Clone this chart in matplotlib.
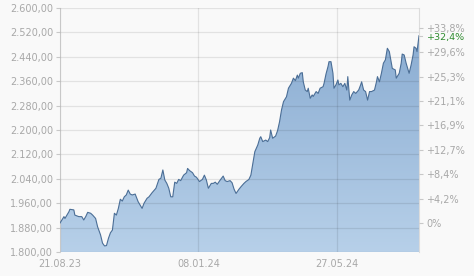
import numpy as np
import pandas as pd
import matplotlib
matplotlib.use("Agg")
import matplotlib.pyplot as plt
from matplotlib.patches import PathPatch

# price series (day offsets from 21.08.23)
start_date = "2023-08-21"
day_offset = [0, 4, 5, 9, 10, 14, 15, 19, 22, 24, 26, 28, 31, 33, 36, 38, 41, 43, 45, 47,
              49, 51, 53, 55, 57, 59, 61, 63, 65, 67, 69, 71, 73, 76, 79, 83, 85, 88, 90, 93,
              97, 100, 102, 104, 106, 108, 110, 112, 114, 116, 118, 120, 122, 125, 128, 129, 131, 134, 136, 138,
              141, 144, 146, 148, 150, 153, 155, 157, 159, 162, 165, 167, 169, 172, 174, 176, 178, 181, 183, 186,
              188, 191, 193, 195, 197, 200, 202, 203, 205, 208, 210, 212, 213, 215, 218, 220, 222, 224, 226, 229,
              231, 233, 234, 236, 238, 240, 241, 243, 245, 246, 248, 250, 251, 253, 255, 256, 259, 261, 263, 266,
              267, 269, 271, 272, 274, 276, 277, 279, 281, 282, 284, 286, 288, 290, 291, 293, 295, 297, 299, 302,
              304, 305, 307, 309, 311, 313, 315, 318, 320, 321, 323, 325, 327, 329, 331, 333, 335, 336, 339, 340,
              343, 345, 346, 348, 350, 352, 353, 355, 357, 358, 360, 361, 363]
close = [1895, 1916, 1910, 1932, 1940, 1938, 1921, 1916, 1916, 1905, 1916, 1930, 1927, 1921, 1910, 1883, 1856, 1829, 1820, 1821,
         1845, 1863, 1872, 1927, 1921, 1943, 1973, 1967, 1981, 1987, 2003, 1990, 1987, 1990, 1965, 1943, 1960, 1976, 1981, 1994,
         2009, 2038, 2042, 2069, 2036, 2025, 2009, 1981, 1981, 2029, 2025, 2038, 2034, 2052, 2060, 2074, 2067, 2060, 2049, 2045,
         2031, 2038, 2052, 2036, 2009, 2025, 2025, 2029, 2022, 2036, 2049, 2034, 2031, 2034, 2027, 2006, 1992, 2006, 2014, 2025,
         2031, 2038, 2052, 2091, 2129, 2151, 2173, 2178, 2162, 2167, 2162, 2175, 2200, 2173, 2180, 2198, 2227, 2266, 2293, 2309,
         2337, 2348, 2353, 2370, 2362, 2380, 2370, 2386, 2388, 2358, 2331, 2326, 2337, 2304, 2315, 2310, 2326, 2320, 2337, 2342,
         2353, 2384, 2408, 2424, 2424, 2386, 2337, 2348, 2364, 2348, 2353, 2342, 2353, 2331, 2375, 2298, 2315, 2326, 2320, 2331,
         2348, 2358, 2331, 2326, 2298, 2326, 2326, 2331, 2358, 2375, 2358, 2386, 2419, 2430, 2468, 2457, 2419, 2402, 2397, 2370,
         2386, 2419, 2449, 2446, 2419, 2397, 2386, 2413, 2446, 2473, 2468, 2457, 2509]

left_ticks = [1800, 1880, 1960, 2040, 2120, 2200, 2280, 2360, 2440, 2520, 2600]
pct_ticks = [0, 4.2, 8.4, 12.7, 16.9, 21.1, 25.3, 29.6, 33.8]
date_ticks = ["2023-08-21", "2024-01-08", "2024-05-27"]
date_labels = ["21.08.23", "08.01.24", "27.05.24"]

dates = pd.Timestamp(start_date) + pd.to_timedelta(day_offset, unit="D")
base = close[0]

grey = "#a8a8a8"
bg = "#f9f9f9"

fig = plt.figure(figsize=(4.74, 2.76), dpi=100, facecolor=bg)
ax = fig.add_axes([60/474, 24/276, 359/474, 244/276], facecolor=bg)

ax.set_xlim(dates[0], dates[-1])
ax.set_ylim(1800, 2600)

# gradient area under the line
poly = ax.fill_between(dates, close, 1800, color="none", lw=0)
grad = np.linspace(0, 1, 256).reshape(-1, 1)
cmap = matplotlib.colors.LinearSegmentedColormap.from_list("g", ["#b7d0e9", "#8badd2"])
x0, x1 = matplotlib.dates.date2num(dates[0]), matplotlib.dates.date2num(dates[-1])
img = ax.imshow(grad, cmap=cmap, aspect="auto", origin="lower",
                extent=[x0, x1, 1800, max(close)], zorder=1)
path = poly.get_paths()[0]
clip = PathPatch(path, transform=ax.transData, facecolor="none", edgecolor="none")
ax.add_patch(clip)
img.set_clip_path(clip)
ax.plot(dates, close, color="#4b6e96", lw=0.8, zorder=3)

ax.set_yticks(left_ticks)
ax.set_yticklabels([f"{v:,.2f}".replace(",", "X").replace(".", ",").replace("X", ".") for v in left_ticks])
ax.set_xticks(pd.to_datetime(date_ticks))
ax.set_xticklabels(date_labels)
ax.grid(True, color="black", alpha=0.09, lw=0.9, zorder=4)
ax.set_axisbelow(False)
ax.tick_params(axis="y", colors="#c8c8c8", labelcolor=grey, labelsize=7, length=3, width=0.8, pad=2)
ax.tick_params(axis="x", length=0, labelcolor=grey, labelsize=7, pad=5)
for s in ["top", "bottom"]:
    ax.spines[s].set_visible(False)
for s in ["left", "right"]:
    ax.spines[s].set_color("#dcdcdc")
    ax.spines[s].set_linewidth(0.8)

# right axis in percent relative to the start value
ax2 = ax.twinx()
ax2.set_ylim(ax.get_ylim())
ax2.set_yticks([base * (1 + p / 100) for p in pct_ticks])
ax2.set_yticklabels(["0%" if p == 0 else f"+{p:.1f}%".replace(".", ",") for p in pct_ticks])
ax2.tick_params(axis="y", colors="#c8c8c8", labelcolor=grey, labelsize=7, length=3, width=0.8, pad=2)
for s in ["top", "bottom", "left", "right"]:
    ax2.spines[s].set_visible(False)

last_pct = (close[-1] / base - 1) * 100
ax2.annotate(f"+{last_pct:.1f}%".replace(".", ","), xy=(1, close[-1]),
             xycoords=("axes fraction", "data"), xytext=(5.5, -1.2), textcoords="offset points",
             color="#2e8b2e", fontsize=6.8, va="center", ha="left")
ax2.plot([1, 1.008], [close[-1], close[-1]], transform=ax2.get_yaxis_transform(),
         color="#c8c8c8", lw=0.8, clip_on=False)

fig.savefig("out.png", dpi=100, facecolor=bg)
